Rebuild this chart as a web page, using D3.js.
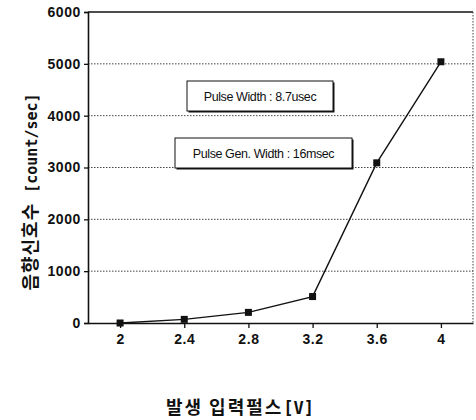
<!DOCTYPE html>
<html>
<head>
<meta charset="utf-8">
<script src="https://cdn.jsdelivr.net/npm/d3@7"></script>
<style>
  html, body { margin: 0; padding: 0; background: #fff; }
  svg { display: block; }
</style>
</head>
<body>
<svg id="chart" width="476" height="420"></svg>
<script>
// Input pulse voltage [V] and acoustic signal count rate [count/sec]
const voltages = [2, 2.4, 2.8, 3.2, 3.6, 4];
const counts = [0, 70, 205, 510, 3090, 5040];
const yTicks = [0, 1000, 2000, 3000, 4000, 5000, 6000];
const xTickLabels = ["2", "2.4", "2.8", "3.2", "3.6", "4"];
const notes = ["Pulse Width : 8.7usec", "Pulse Gen. Width : 16msec"];

(function () {
  const svg = d3.select("#chart");
  const plotL = 88, plotR = 473, plotT = 12, plotB = 323;

  const x = d3.scaleLinear().domain([1.8, 4.2]).range([plotL, plotR]);
  const y = d3.scaleLinear().domain([0, 6000]).range([plotB, plotT]);

  const ink = "#111";
  const numFont = "'Liberation Sans', Arial, sans-serif";

  // dotted gridlines
  svg.append("g")
    .selectAll("line")
    .data(yTicks.filter(v => v > 0 && v < 6000))
    .join("line")
    .attr("x1", plotL).attr("x2", plotR)
    .attr("y1", d => y(d)).attr("y2", d => y(d))
    .attr("stroke", "#444").attr("stroke-width", 1)
    .attr("stroke-dasharray", "1.5,1.5");

  // frame: top solid, right dotted
  svg.append("line")
    .attr("x1", plotL).attr("x2", plotR)
    .attr("y1", y(6000)).attr("y2", y(6000))
    .attr("stroke", ink).attr("stroke-width", 1.3);
  svg.append("line")
    .attr("x1", plotR).attr("x2", plotR)
    .attr("y1", y(6000)).attr("y2", plotB)
    .attr("stroke", "#444").attr("stroke-width", 1)
    .attr("stroke-dasharray", "1.5,1.5");

  // y axis
  const yAxis = d3.axisLeft(y).tickValues(yTicks).tickSize(4).tickPadding(3)
    .tickFormat(d3.format("d"));
  const gy = svg.append("g").attr("transform", `translate(${plotL},0)`).call(yAxis);
  gy.select(".domain").attr("stroke", ink).attr("stroke-width", 1.6);
  gy.selectAll(".tick line").attr("stroke", ink).attr("stroke-width", 1.3);
  gy.selectAll(".tick text")
    .attr("fill", ink)
    .style("font-family", numFont)
    .style("font-size", "14px")
    .style("font-weight", "bold")
    .style("letter-spacing", "0.6px");

  // x axis
  const xAxis = d3.axisBottom(x).tickValues(voltages).tickSize(5).tickSizeOuter(0)
    .tickPadding(6)
    .tickFormat((d, i) => xTickLabels[i]);
  const gx = svg.append("g").attr("transform", `translate(0,${plotB})`).call(xAxis);
  gx.select(".domain").attr("stroke", ink).attr("stroke-width", 1.6);
  gx.selectAll(".tick line").attr("stroke", ink).attr("stroke-width", 1.3);
  gx.selectAll(".tick text")
    .attr("fill", ink)
    .style("font-family", numFont)
    .style("font-size", "14px")
    .style("font-weight", "bold")
    .style("letter-spacing", "0.6px");

  // data line and markers
  const line = d3.line().x((d, i) => x(voltages[i])).y(d => y(d));
  svg.append("path")
    .datum(counts)
    .attr("d", line)
    .attr("fill", "none")
    .attr("stroke", ink)
    .attr("stroke-width", 1.4);

  const ms = 7;
  svg.append("g")
    .selectAll("rect")
    .data(counts)
    .join("rect")
    .attr("x", (d, i) => x(voltages[i]) - ms / 2)
    .attr("y", d => y(d) - ms / 2)
    .attr("width", ms).attr("height", ms)
    .attr("fill", ink);

  // annotation boxes
  const boxes = [
    { text: notes[0], x: 187, y: 81, w: 146, h: 30 },
    { text: notes[1], x: 175, y: 138, w: 177, h: 30 }
  ];
  const gb = svg.append("g");
  boxes.forEach(b => {
    gb.append("rect")
      .attr("x", b.x + 1.5).attr("y", b.y + 1.5)
      .attr("width", b.w).attr("height", b.h)
      .attr("fill", ink);
    gb.append("rect")
      .attr("x", b.x).attr("y", b.y)
      .attr("width", b.w).attr("height", b.h)
      .attr("fill", "#fff").attr("stroke", ink).attr("stroke-width", 1);
    gb.append("text")
      .attr("x", b.x + b.w / 2).attr("y", b.y + b.h / 2 + 4.5)
      .attr("text-anchor", "middle")
      .attr("fill", ink)
      .style("font-family", numFont)
      .style("font-size", "12.5px")
      .style("letter-spacing", "-0.4px")
      .text(b.text);
  });

  // axis titles
  const kr = "'Noto Sans CJK KR', sans-serif";
  const mono = "'DejaVu Sans Mono', 'Liberation Mono', monospace";

  const yt = svg.append("text")
    .attr("transform", "translate(37,192) rotate(-90)")
    .attr("text-anchor", "middle")
    .attr("fill", ink)
    .style("font-weight", "bold");
  yt.append("tspan").style("font-family", kr).style("font-size", "18px")
    .style("letter-spacing", "1px").text("음향신호수");
  yt.append("tspan").style("font-family", mono).style("font-size", "15px")
    .attr("dx", 10).text("[count/sec]");

  const xt = svg.append("text")
    .attr("x", 240).attr("y", 414)
    .attr("text-anchor", "middle")
    .attr("fill", ink)
    .style("font-weight", "bold");
  xt.append("tspan").style("font-family", kr).style("font-size", "18px")
    .style("letter-spacing", "2px").text("발생 입력펄스");
  xt.append("tspan").style("font-family", mono).style("font-size", "17px").text("[V]");
})();
</script>
</body>
</html>
